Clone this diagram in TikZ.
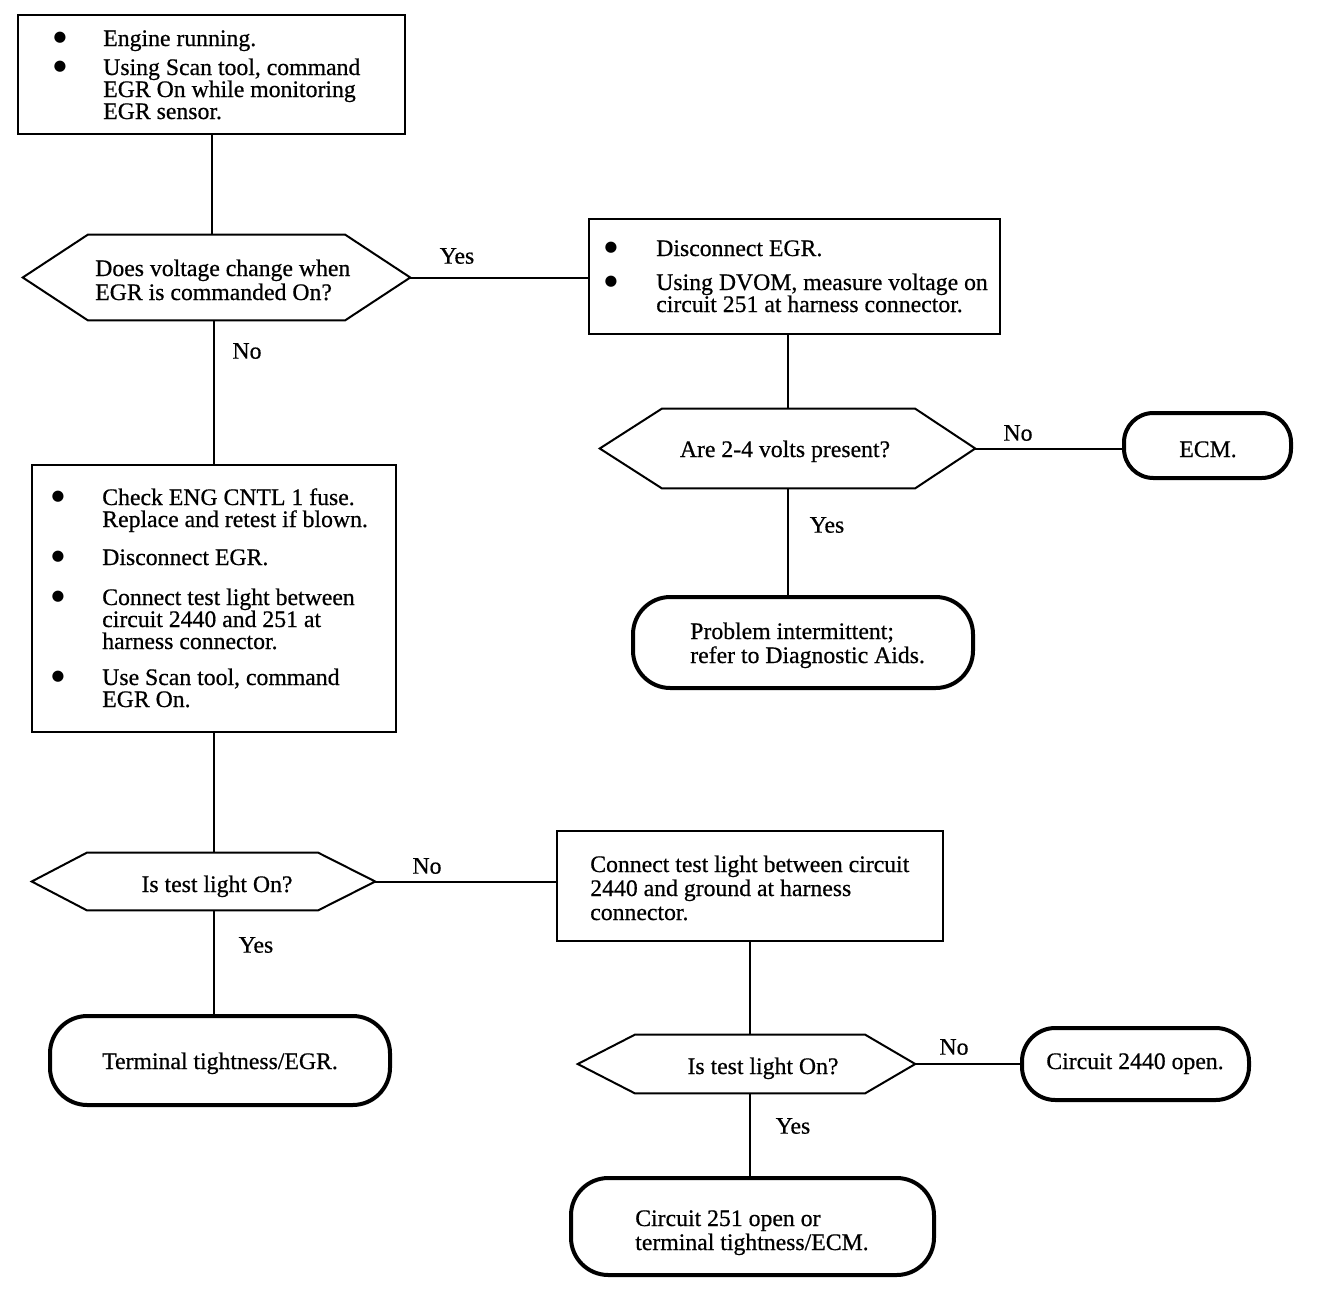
\documentclass[tikz,border=0pt]{standalone}
\usepackage{fontspec}
\setmainfont{Liberation Serif}[FakeBold=0.6]
\newfontfamily\symfont{DejaVu Sans}
\usetikzlibrary{fit}
\begin{document}
\begin{tikzpicture}[x=0.75pt,y=-0.75pt,
  boxnode/.style={draw,line width=1.5pt,inner sep=0pt},
  hexnode/.style={inner sep=0pt},
  hexline/.style={line width=1.5pt,line join=miter},
  termnode/.style={draw,line width=3pt,inner sep=0pt,rounded corners=28pt},
  conn/.style={line width=1.5pt},
  txt/.style={inner sep=0pt,align=left,font=\fontsize{17.8}{16.5}\selectfont},
  txtb/.style={inner sep=0pt,align=left,font=\fontsize{17.8}{18}\selectfont},
  lbl/.style={inner sep=0pt,font=\fontsize{17.8}{18}\selectfont},
  bul/.style={inner sep=0pt,font=\symfont\fontsize{11}{11}\selectfont}
]
\useasboundingbox (0,0) rectangle (1328,1296);

% ---------- shapes ----------
\node[boxnode,fit={(18,15) (405,134)}] (b1) {};
\node[hexnode,fit={(23,235) (410,320)}] (h1) {};
\node[boxnode,fit={(589,219) (1000,334)}] (b2) {};
\node[hexnode,fit={(600,409) (975,488)}] (h2) {};
\node[termnode,rounded corners=22pt,fit={(1124,413) (1291,478)}] (t2) {};
\node[termnode,fit={(633,597) (973,688)}] (t3) {};
\node[boxnode,fit={(32,465) (396,732)}] (b3) {};
\node[hexnode,fit={(32,853) (375,910)}] (h3) {};
\node[termnode,fit={(50,1016) (390,1105)}] (t1) {};
\node[boxnode,fit={(557,831) (943,941)}] (b4) {};
\node[hexnode,fit={(578,1035) (915,1093)}] (h4) {};
\node[termnode,rounded corners=25pt,fit={(1022,1028) (1249,1100)}] (t4) {};
\node[termnode,fit={(571,1178) (934,1275)}] (t5) {};

% hexagon outlines
\draw[hexline] (h1.west) -- ([xshift=65*0.75pt]h1.north west) -- ([xshift=-65*0.75pt]h1.north east) -- (h1.east) -- ([xshift=-65*0.75pt]h1.south east) -- ([xshift=65*0.75pt]h1.south west) -- cycle;
\draw[hexline] (h2.west) -- ([xshift=62*0.75pt]h2.north west) -- ([xshift=-60*0.75pt]h2.north east) -- (h2.east) -- ([xshift=-60*0.75pt]h2.south east) -- ([xshift=62*0.75pt]h2.south west) -- cycle;
\draw[hexline] (h3.west) -- ([xshift=55*0.75pt]h3.north west) -- ([xshift=-57*0.75pt]h3.north east) -- (h3.east) -- ([xshift=-57*0.75pt]h3.south east) -- ([xshift=55*0.75pt]h3.south west) -- cycle;
\draw[hexline] (h4.west) -- ([xshift=57*0.75pt]h4.north west) -- ([xshift=-50*0.75pt]h4.north east) -- (h4.east) -- ([xshift=-50*0.75pt]h4.south east) -- ([xshift=57*0.75pt]h4.south west) -- cycle;

% ---------- connectors ----------
\draw[conn] (b1.south) -- (b1.south |- h1.north);
\draw[conn] (h1.east) -- (h1.east -| b2.west);
\draw[conn] (b3.north |- h1.south) -- (b3.north);
\draw[conn] (h2.north |- b2.south) -- (h2.north);
\draw[conn] (h2.east) -- (h2.east -| t2.west);
\draw[conn] (h2.south) -- (h2.south |- t3.north);
\draw[conn] (b3.south) -- (b3.south |- h3.north);
\draw[conn] (h3.east) -- (h3.east -| b4.west);
\draw[conn] (b3.south |- h3.south) -- (b3.south |- t1.north);
\draw[conn] (b4.south) -- (b4.south |- h4.north);
\draw[conn] (h4.east) -- (h4.east -| t4.west);
\draw[conn] (b4.south |- h4.south) -- (b4.south |- t5.north);

% ---------- labels ----------
\node[lbl] (l1) at (457,256) {Yes};
\node[lbl] (l2) at (247,351) {No};
\node[lbl] (l3) at (1018,433) {No};
\node[lbl] (l4) at (827,525) {Yes};
\node[lbl] (l5) at (427,866) {No};
\node[lbl] (l6) at (256,945) {Yes};
\node[lbl] (l7) at (954,1047) {No};
\node[lbl] (l8) at (793,1126) {Yes};

% ---------- box 1 text ----------
\node[bul] (b1a) at (60,38) {●};
\node[txt,anchor=base west] (b1at) at (103,46) {Engine running.};
\node[bul] (b1b) at (60,67) {●};
\node[txt,anchor=base west] (b1bt) at (103,119) {Using Scan tool, command\\EGR On while monitoring\\EGR sensor.};

% ---------- hex 1 text ----------
\node[txtb,anchor=base west] (h1t) at (95,300) {Does voltage change when\\EGR is commanded On?};

% ---------- box 2 text ----------
\node[bul] (b2a) at (611,248) {●};
\node[txt,anchor=base west] (b2at) at (656,256) {Disconnect EGR.};
\node[bul] (b2b) at (611,282) {●};
\node[txt,anchor=base west] (b2bt) at (656,312) {Using DVOM, measure voltage on\\circuit 251 at harness connector.};

% ---------- hex 2 / terminals ----------
\node[lbl,anchor=base] (h2t) at (785,457) {Are 2-4 volts present?};
\node[lbl,anchor=base] (t2t) at (1208,457) {ECM.};
\node[txtb,anchor=base west] (t3t) at (690,663) {Problem intermittent;\\refer to Diagnostic Aids.};

% ---------- box 3 text ----------
\node[bul] (b3a) at (58,497) {●};
\node[txt,anchor=base west] (b3at) at (102,527) {Check ENG CNTL 1 fuse.\\Replace and retest if blown.};
\node[bul] (b3b) at (58,557) {●};
\node[txt,anchor=base west] (b3bt) at (102,565) {Disconnect EGR.};
\node[bul] (b3c) at (58,597) {●};
\node[txt,anchor=base west] (b3ct) at (102,649) {Connect test light between\\circuit 2440 and 251 at\\harness connector.};
\node[bul] (b3d) at (58,677) {●};
\node[txt,anchor=base west] (b3dt) at (102,707) {Use Scan tool, command\\EGR On.};

% ---------- lower texts ----------
\node[lbl,anchor=base] (h3t) at (217,892) {Is test light On?};
\node[txtb,anchor=base west] (b4t) at (590,920) {Connect test light between circuit\\2440 and ground at harness\\connector.};
\node[lbl,anchor=base] (t1t) at (220,1069) {Terminal tightness/EGR.};
\node[lbl,anchor=base] (h4t) at (763,1074) {Is test light On?};
\node[lbl,anchor=base] (t4t) at (1135,1069) {Circuit 2440 open.};
\node[txtb,anchor=base west] (t5t) at (635,1250) {Circuit 251 open or\\terminal tightness/ECM.};
\end{tikzpicture}
\end{document}
